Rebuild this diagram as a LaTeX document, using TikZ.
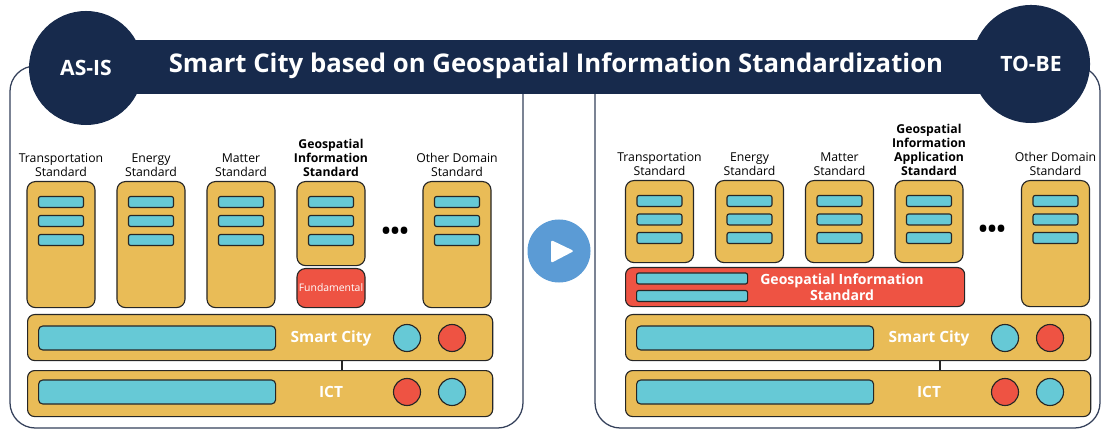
\documentclass[tikz,border=0pt]{standalone}
\usepackage{fontspec}
\setmainfont{Open Sans}
\usetikzlibrary{positioning}

\definecolor{navy}{HTML}{172A4C}
\definecolor{gold}{HTML}{E9BC57}
\definecolor{cyanbar}{HTML}{66C9D6}
\definecolor{redbox}{HTML}{EE5343}
\definecolor{framec}{HTML}{34405A}
\definecolor{playblue}{HTML}{5B9BD5}

\tikzset{
  colbox/.style={draw=black!85, fill=gold, rounded corners=6pt, line width=0.8pt, minimum width=1.7cm, inner sep=0pt},
  slot/.style={draw=black!85, fill=cyanbar, rounded corners=1.5pt, line width=0.8pt, minimum width=1.125cm, minimum height=0.275cm, inner sep=0pt},
  lbl/.style={font=\fontsize{8.7}{10}\selectfont, align=center, text=black, inner sep=1pt},
  layer/.style={draw=black!85, fill=gold, rounded corners=5pt, line width=0.8pt, minimum width=11.625cm, minimum height=1.15cm, inner sep=0pt},
  longslot/.style={slot, minimum width=5.925cm, minimum height=0.6cm, rounded corners=3pt},
  disc/.style={circle, draw=black!85, line width=0.8pt, minimum size=0.675cm, inner sep=0pt},
  wtxt/.style={text=white, font=\bfseries\fontsize{11}{13}\selectfont},
  badge/.style={circle, fill=navy, text=white, font=\bfseries\fontsize{15}{17}\selectfont},
}

\begin{document}
\begin{tikzpicture}[x=0.025cm, y=-0.025cm]
\useasboundingbox (0,0) rectangle (1102,431);

% panels
\draw[framec, line width=0.9pt, rounded corners=18pt] (10,66) rectangle (523,428);
\draw[framec, line width=0.9pt, rounded corners=18pt] (595,66) rectangle (1100,428);

% banner
\fill[navy] (86,40) rectangle (1031,94);
\node[badge, minimum size=2.85cm] (asis) at (86,68) {AS-IS};
\node[badge, minimum size=2.95cm] (tobe) at (1031,64) {TO-BE};
\node[text=white, font=\bfseries\fontsize{18.3}{20}\selectfont] (title) at (556,66) {Smart City based on Geospatial Information Standardization};

% play button
\node[circle, fill=playblue, minimum size=1.575cm] (play) at (559,251) {};
\fill[white, rounded corners=1.5pt] (551,240) -- (574,251) -- (551,263) -- cycle;

% AS-IS columns
\foreach \n/\x/\h/\t in {tr/61/3.15/{Transportation\\Standard}, en/151/3.15/{Energy\\Standard}, ma/241/3.15/{Matter\\Standard}, gi/331/2.1/{\bfseries Geospatial\\\bfseries Information\\\bfseries Standard}, ot/457/3.15/{Other Domain\\Standard}}{
  \node[colbox, minimum height=\h cm, anchor=north] (L\n) at (\x,181) {};
  \node[lbl, above=2pt of L\n] (L\n txt) {\t};
  \foreach \r in {0,1,2}
    \node[slot] (L\n\r) at (\x,{202+19*\r}) {};
}
\node[colbox, fill=redbox, minimum height=0.975cm, anchor=north, text=white, font=\fontsize{7.4}{8}\selectfont] (Lfund) at (331,268) {Fundamental};
\node[font=\bfseries\fontsize{17}{17}\selectfont] (Ldots) at (395,233) {•••};

% TO-BE columns
\foreach \n/\x/\h/\t in {tr/659.5/2.05/{Transportation\\Standard}, en/749.5/2.05/{Energy\\Standard}, ma/839.5/2.05/{Matter\\Standard}, ga/929/2.05/{\bfseries Geospatial\\\bfseries Information\\\bfseries Application\\\bfseries Standard}, ot/1055.5/3.15/{Other Domain\\Standard}}{
  \node[colbox, minimum height=\h cm, anchor=north] (R\n) at (\x,180) {};
  \node[lbl, above=2pt of R\n] (R\n txt) {\t};
  \foreach \r in {0,1,2}
    \node[slot] (R\n\r) at (\x,{201+18.5*\r}) {};
}
\node[colbox, fill=redbox, minimum width=8.475cm, minimum height=0.975cm, rounded corners=5pt, anchor=north west] (Rgis) at (625,267) {};
\node[slot, minimum width=2.775cm, anchor=west] (Rgis0) at (636,278.5) {};
\node[slot, minimum width=2.775cm, anchor=west] (Rgis1) at (636,296) {};
\node[wtxt, font=\bfseries\fontsize{10}{11.5}\selectfont, align=center] (Rgistxt) at (842,287) {Geospatial Information\\Standard};
\node[font=\bfseries\fontsize{17}{17}\selectfont] (Rdots) at (992,231) {•••};

% Smart City / ICT layers
\foreach \p/\dx in {L/0, R/598}{
  \begin{scope}[xshift=\dx*0.025cm]
    \node[layer, anchor=north west] (\p sc) at (27,314) {};
    \node[longslot, anchor=west] (\p scbar) at (38,338) {};
    \node[wtxt] (\p sctxt) at (331,338) {Smart City};
    \node[disc, fill=cyanbar] (\p sca) at (407,338) {};
    \node[disc, fill=redbox] (\p scb) at (452,338) {};
    \node[layer, anchor=north west] (\p ict) at (27,370) {};
    \node[longslot, anchor=west] (\p ictbar) at (38,392) {};
    \node[wtxt] (\p icttxt) at (331,392) {ICT};
    \node[disc, fill=redbox] (\p icta) at (407,392) {};
    \node[disc, fill=cyanbar] (\p ictb) at (452,392) {};
    \coordinate (\p link) at (342,0);
    \draw[line width=0.8pt, black!85] (\p link |- \p sc.south) -- (\p link |- \p ict.north);
  \end{scope}
}
\end{tikzpicture}
\end{document}
